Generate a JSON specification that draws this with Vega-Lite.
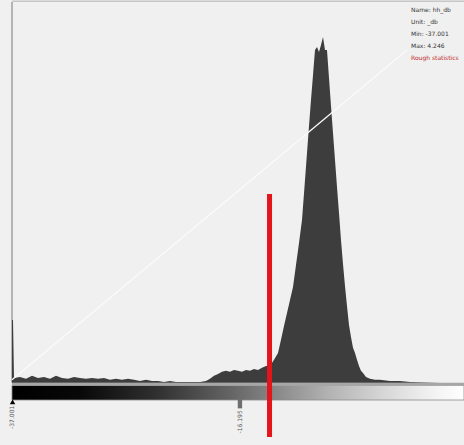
{
  "$schema": "https://vega.github.io/schema/vega-lite/v6.json",
  "width": 452,
  "height": 438,
  "autosize": {"type": "none"},
  "padding": {"left": 12, "top": 2, "right": 0, "bottom": 5},
  "background": "#f0f0f0",
  "config": {"view": {"stroke": null}},
  "datasets": {
    "hist": [
      {"x": -37.001, "y": 16.5}, {"x": -36.910, "y": 16.5}, {"x": -36.818, "y": 1.31},
      {"x": -36.271, "y": 1.57}, {"x": -35.723, "y": 1.05}, {"x": -35.176, "y": 1.84},
      {"x": -34.628, "y": 1.31}, {"x": -34.081, "y": 1.57}, {"x": -33.533, "y": 1.05},
      {"x": -32.986, "y": 1.84}, {"x": -32.438, "y": 1.31}, {"x": -31.891, "y": 1.05},
      {"x": -31.343, "y": 1.57}, {"x": -30.796, "y": 1.31}, {"x": -30.248, "y": 1.05},
      {"x": -29.701, "y": 1.31}, {"x": -29.153, "y": 1.05}, {"x": -28.606, "y": 1.31},
      {"x": -28.058, "y": 0.79}, {"x": -27.511, "y": 1.05}, {"x": -26.963, "y": 0.79},
      {"x": -26.416, "y": 1.05}, {"x": -25.868, "y": 0.79}, {"x": -25.321, "y": 0.52},
      {"x": -24.773, "y": 0.79}, {"x": -24.226, "y": 0.52}, {"x": -23.678, "y": 0.52},
      {"x": -23.131, "y": 0.26}, {"x": -22.583, "y": 0.52}, {"x": -22.036, "y": 0.26},
      {"x": -21.488, "y": 0.26}, {"x": -20.941, "y": 0.26}, {"x": -20.393, "y": 0.26},
      {"x": -19.845, "y": 0.26}, {"x": -19.298, "y": 0.52}, {"x": -18.933, "y": 1.05},
      {"x": -18.568, "y": 1.84}, {"x": -18.203, "y": 2.36}, {"x": -17.838, "y": 2.89},
      {"x": -17.473, "y": 3.15}, {"x": -17.108, "y": 2.89}, {"x": -16.743, "y": 3.41},
      {"x": -16.378, "y": 3.15}, {"x": -16.013, "y": 2.89}, {"x": -15.648, "y": 3.41},
      {"x": -15.283, "y": 3.15}, {"x": -14.918, "y": 3.67}, {"x": -14.553, "y": 3.41},
      {"x": -14.188, "y": 3.94}, {"x": -13.823, "y": 4.46}, {"x": -13.457, "y": 4.46},
      {"x": -13.092, "y": 6.04}, {"x": -12.727, "y": 7.87}, {"x": -12.454, "y": 11.29},
      {"x": -12.180, "y": 14.96}, {"x": -11.906, "y": 18.37}, {"x": -11.632, "y": 21.78},
      {"x": -11.358, "y": 25.2}, {"x": -11.085, "y": 30.97}, {"x": -10.811, "y": 36.75},
      {"x": -10.537, "y": 42.78}, {"x": -10.263, "y": 53.28}, {"x": -10.081, "y": 60.37},
      {"x": -9.898, "y": 67.45}, {"x": -9.716, "y": 74.28}, {"x": -9.533, "y": 80.84},
      {"x": -9.351, "y": 87.4}, {"x": -9.168, "y": 88.19}, {"x": -8.986, "y": 86.88},
      {"x": -8.803, "y": 88.71}, {"x": -8.621, "y": 90.81}, {"x": -8.438, "y": 87.4},
      {"x": -8.256, "y": 87.4}, {"x": -8.073, "y": 80.05}, {"x": -7.891, "y": 72.7},
      {"x": -7.708, "y": 65.62}, {"x": -7.526, "y": 58.53}, {"x": -7.343, "y": 51.44},
      {"x": -7.161, "y": 44.62}, {"x": -6.979, "y": 37.53}, {"x": -6.796, "y": 31.23},
      {"x": -6.614, "y": 25.46}, {"x": -6.431, "y": 20.21}, {"x": -6.249, "y": 15.22},
      {"x": -6.066, "y": 12.07}, {"x": -5.884, "y": 9.19}, {"x": -5.701, "y": 7.87},
      {"x": -5.519, "y": 6.04}, {"x": -5.336, "y": 4.46}, {"x": -5.154, "y": 3.15},
      {"x": -4.971, "y": 2.62}, {"x": -4.697, "y": 1.57}, {"x": -4.332, "y": 1.05},
      {"x": -3.876, "y": 0.79}, {"x": -3.420, "y": 0.79}, {"x": -2.507, "y": 0.52},
      {"x": -1.594, "y": 0.52}, {"x": -0.681, "y": 0.26}, {"x": 0.232, "y": 0.13},
      {"x": 2.057, "y": 0.05}, {"x": 4.246, "y": 0}
    ],
    "bar": [{"x": -37.001, "x2": 4.246, "y": -0.6, "y2": -4.5}],
    "band": [{"x": -37.001, "x2": 4.246, "y": -0.35}],
    "frame": [{"x": -37.001, "y": 0, "y2": 100}],
    "topline": [{"x": -37.001, "x2": 4.246, "y": 100.2}],
    "diag": [{"x": -37.001, "y": 0.8}, {"x": -0.957, "y": 87.4}],
    "threshold": [{"x": -13.5, "y": 49.6, "y2": -14.2}],
    "stats": [
      {"x": -0.59, "y": 97.9, "label": "Name: hh_db", "kind": "info"},
      {"x": -0.59, "y": 94.75, "label": "Unit: _db", "kind": "info"},
      {"x": -0.59, "y": 91.6, "label": "Min: -37.001", "kind": "info"},
      {"x": -0.59, "y": 88.45, "label": "Max: 4.246", "kind": "info"},
      {"x": -0.59, "y": 85.3, "label": "Rough statistics", "kind": "warn"}
    ],
    "ticks": [
      {"x": -37.001, "y": -6.0, "label": "-37.001"},
      {"x": -16.195, "y": -7.2, "label": "-16.195"}
    ],
    "minmark": [{"x": -36.95, "y": -5.0}],
    "slider": [{"x": -16.4, "x2": -16.0, "y": -3.8, "y2": -6.7}]
  },
  "encoding": {
    "x": {"field": "x", "type": "quantitative", "axis": null,
          "scale": {"domain": [-37.001, 4.246], "nice": false, "zero": false}},
    "y": {"field": "y", "type": "quantitative", "axis": null,
          "scale": {"domain": [-15, 100], "nice": false, "zero": false}}
  },
  "layer": [
    {
      "data": {"name": "bar"},
      "mark": {"type": "rect", "stroke": "#8a8a8a", "strokeWidth": 0.8,
        "fill": {"gradient": "linear", "x1": 0, "y1": 0, "x2": 1, "y2": 0,
          "stops": [
            {"offset": 0, "color": "#000000"},
            {"offset": 0.15, "color": "#080808"},
            {"offset": 0.32, "color": "#303030"},
            {"offset": 0.5, "color": "#6a6a6a"},
            {"offset": 0.6, "color": "#8e8e8e"},
            {"offset": 0.7, "color": "#b2b2b2"},
            {"offset": 0.82, "color": "#d6d6d6"},
            {"offset": 0.93, "color": "#f2f2f2"},
            {"offset": 1, "color": "#ffffff"}
          ]}},
      "encoding": {"x2": {"field": "x2"}, "y2": {"field": "y2"}}
    },
    {
      "data": {"name": "band"},
      "mark": {"type": "rule", "color": "#a6a6a6", "strokeWidth": 3},
      "encoding": {"x2": {"field": "x2"}}
    },
    {
      "data": {"name": "topline"},
      "mark": {"type": "rule", "color": "#c6c6c6", "strokeWidth": 1.5},
      "encoding": {"x2": {"field": "x2"}}
    },
    {
      "data": {"name": "frame"},
      "mark": {"type": "rule", "color": "#b4b4b4", "strokeWidth": 2},
      "encoding": {"y2": {"field": "y2"}}
    },
    {
      "data": {"name": "hist"},
      "mark": {"type": "area", "color": "#3d3d3d", "interpolate": "linear"},
      "encoding": {"y2": {"datum": 0}}
    },
    {
      "data": {"name": "diag"},
      "mark": {"type": "line", "color": "#fbfbfb", "strokeWidth": 1.3},
      "encoding": {}
    },
    {
      "data": {"name": "threshold"},
      "mark": {"type": "rule", "color": "#e3141a", "strokeWidth": 5},
      "encoding": {"y2": {"field": "y2"}}
    },
    {
      "data": {"name": "stats"},
      "mark": {"type": "text", "align": "left", "baseline": "middle", "font": "DejaVu Sans", "fontSize": 6},
      "encoding": {
        "text": {"field": "label"},
        "color": {"field": "kind", "type": "nominal", "legend": null,
          "scale": {"domain": ["info", "warn"], "range": ["#333333", "#c0282c"]}}
      }
    },
    {
      "data": {"name": "ticks"},
      "mark": {"type": "text", "angle": 270, "align": "right", "baseline": "middle", "font": "DejaVu Sans", "fontSize": 6, "color": "#555555"},
      "encoding": {"text": {"field": "label"}}
    },
    {
      "data": {"name": "minmark"},
      "mark": {"type": "point", "shape": "triangle-up", "filled": true, "color": "#000000", "size": 30, "opacity": 1},
      "encoding": {}
    },
    {
      "data": {"name": "slider"},
      "mark": {"type": "rect", "color": "#6e6e6e"},
      "encoding": {"x2": {"field": "x2"}, "y2": {"field": "y2"}}
    }
  ]
}
